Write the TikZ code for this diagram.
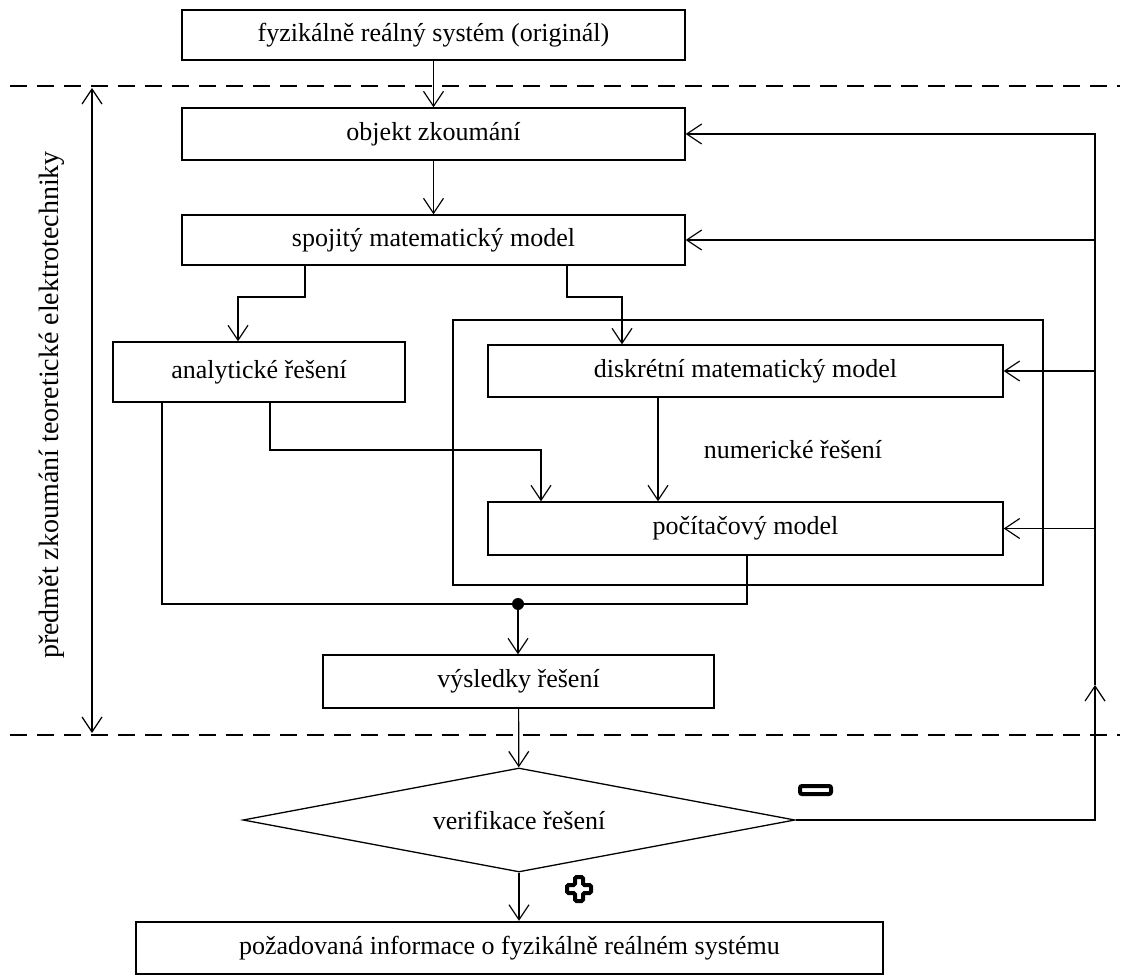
\documentclass[tikz,border=0pt]{standalone}
\usepackage{fontspec}
\setmainfont{Liberation Serif}
\usetikzlibrary{arrows.meta, shapes.geometric}

\begin{document}
\begin{tikzpicture}[x=1pt,y=-1pt,line width=1.2pt,
    >={Straight Barb[length=15pt,width=20pt]},
    font=\fontsize{26}{30}\selectfont,
    box/.style={draw, rectangle, line width=1.3pt, inner sep=0pt, minimum height=52pt},
    sep/.style={dashed, dash pattern=on 17pt off 10pt}]
  \useasboundingbox (0,0) rectangle (1128,976);

  % Define boxes
  \node[box, minimum width=503pt, minimum height=50pt] (orig) at (433.5,35) {fyzikálně reálný systém (originál)};
  \node[box, minimum width=503pt] (obj)  at (433.5,134) {objekt zkoumání};
  \node[box, minimum width=503pt, minimum height=50pt] (spoj) at (433.5,240) {spojitý matematický model};
  \node[box, minimum width=292pt, minimum height=60pt] (anal) at (259,372) {analytické řešení};
  \node[box, minimum width=590pt, minimum height=265pt] (num) at (748,452.5) {};
  \node (numtxt) at (793,450) {numerické řešení};
  \node[box, minimum width=515pt] (disk) at (745.5,371) {diskrétní matematický model};
  \node[box, minimum width=515pt, minimum height=53pt] (pc) at (745.5,528.5) {počítačový model};
  \node[box, minimum width=391pt, minimum height=53pt] (vys) at (518.5,681.5) {výsledky řešení};
  \node[draw, diamond, line width=1.3pt, aspect=5.3, inner sep=0pt,
        minimum width=552pt, minimum height=104pt] (ver) at (519,820) {verifikace řešení};
  \node[box, line width=2.4pt, minimum width=747pt, minimum height=52pt] (info) at (509.5,948) {požadovaná informace o fyzikálně reálném systému};

  % Define help points
  \coordinate (a1) at (305,297);  \coordinate (a2) at (238,297);
  \coordinate (d1) at (567,297);  \coordinate (d2) at (622,297);
  \coordinate (k)  at (658,0);
  \coordinate (b0) at (270,0);    \coordinate (b1) at (270,450);  \coordinate (b2) at (541,450);
  \coordinate (c0) at (162,0);    \coordinate (c1) at (162,604);  \coordinate (c2) at (747,604);
  \coordinate (m)  at (518,604);
  \coordinate (rup) at (1095,685);

  % Define connections
  \draw[->] (orig) -- (obj);
  \draw[->] (obj) -- (spoj);
  \draw[->] (spoj.south -| a1) -- (a1) -- (a2) -- (anal.north -| a2);
  \draw[->] (spoj.south -| d1) -- (d1) -- (d2) -- (disk.north -| d2);
  \draw[->] (disk.south -| k) -- (pc.north -| k);
  \draw[->] (anal.south -| b0) -- (b1) -- (b2) -- (pc.north -| b2);
  \draw (anal.south -| c0) -- (c1) -- (c2) -- (pc.south -| c2);
  \fill (m) circle (6pt);
  \draw[->] (m) -- (vys.north -| m);
  \draw[->] (vys) -- (ver);
  \draw[->] (ver.south) -- (info.north -| ver.south);

  % feedback loop
  \draw[->] (ver.east) -- (ver.east -| rup) -- (rup);
  \draw[->] (rup) -- (obj.east -| rup) -- (obj.east);
  \draw[->] (spoj.east -| rup) -- (spoj.east);
  \draw[->] (disk.east -| rup) -- (disk.east);
  \draw[->] (pc.east -| rup) -- (pc.east);

  % Define borders
  \draw[sep] (10,86) -- (1120,86);
  \draw[sep] (10,735) -- (1120,735);
  \draw[<->] (92,88) -- (92,733);
  \node[rotate=90, font=\fontsize{28}{32}\selectfont] (scope) at (52,405) {předmět zkoumání teoretické elektrotechniky};

  % signs
  \draw[line width=4pt, rounded corners=2pt, fill=white] (800,786) rectangle (831,794);
  \draw[line width=4pt, rounded corners=1.5pt, fill=white] (575,877) -- (583,877) -- (583,885) -- (591,885) -- (591,893)
       -- (583,893) -- (583,901) -- (575,901) -- (575,893) -- (567,893) -- (567,885) -- (575,885) -- cycle;
\end{tikzpicture}
\end{document}
